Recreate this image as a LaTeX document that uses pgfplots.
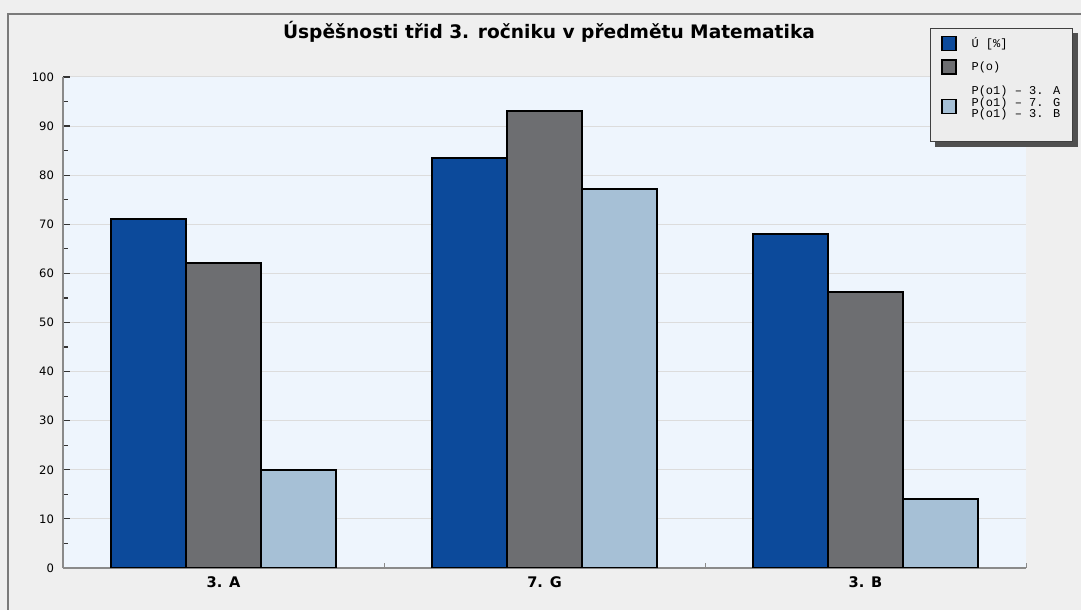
\documentclass[border=0pt]{standalone}
\usepackage{pgfplots}
\pgfplotsset{compat=1.18}
\usepackage{fontspec}
\setmainfont{DejaVu Sans}
\newfontfamily\monofont{Liberation Mono}
\definecolor{cblue}{HTML}{0C4A9B}
\definecolor{cgray}{HTML}{6D6E71}
\definecolor{clight}{HTML}{A6C0D6}
\definecolor{plotbg}{HTML}{EEF5FD}
\definecolor{pagebg}{HTML}{EFEFEF}
\definecolor{gridc}{HTML}{DCDCDC}
\definecolor{axisgray}{HTML}{8A8A8A}
\definecolor{framegray}{HTML}{7A7A7A}
\definecolor{shadowgray}{HTML}{505050}
\definecolor{legbg}{HTML}{EDEDED}
\pgfplotsset{
  sq/.style={legend image code/.code={\draw[overlay,fill=#1,draw=black,line width=0.7pt] (1.5pt,-1.5pt) rectangle (8.5pt,5.5pt); \path (0pt,0pt) (14pt,0pt);}},
  sqhigh/.style={legend image code/.code={\draw[overlay,fill=#1,draw=black,line width=0.7pt] (1.5pt,2pt) rectangle (8.5pt,9pt); \path (0pt,0pt) (14pt,0pt);}},
  noimg/.style={legend image code/.code={\path (0pt,0pt) (14pt,0pt);}},
}
\begin{document}
\begin{tikzpicture}
\fill[pagebg] (0,0) rectangle (540.5pt,305pt);
\useasboundingbox (0,0) rectangle (540.5pt,305pt);
\draw[framegray,line width=1.3pt] (4pt,-5pt) -- (4pt,298pt) -- (560pt,298pt);
\node[font=\bfseries\fontsize{9.3}{11}\selectfont] at (274.5pt,289pt) {Úspěšnosti třid 3. ročniku v předmětu Matematika};
\begin{axis}[
  at={(31.5pt,21pt)}, anchor=south west,
  scale only axis, width=481.5pt, height=245.5pt,
  ybar=0pt, bar width=37.5pt,
  xmin=-0.5, xmax=2.5, ymin=0, ymax=100,
  xtick={0,1,2}, xticklabels={3. A,7. G,3. B},
  minor xtick={0.5,1.5,2.5},
  ytick={0,10,...,100}, minor y tick num=1,
  axis x line=bottom, axis y line=left,
  axis line style={-, draw=axisgray, line width=0.8pt},
  axis background/.style={fill=plotbg},
  tick align=inside,
  major x tick style={draw=none},
  minor x tick style={draw=axisgray, line width=0.5pt},
  major y tick style={draw=black!80, line width=0.6pt},
  minor y tick style={draw=black!80, line width=0.6pt},
  major tick length=3.5pt, minor tick length=2.5pt,
  ymajorgrids, grid style={draw=gridc, line width=0.5pt},
  /pgf/number format/assume math mode=true,
  yticklabel style={font=\fontsize{5.8}{7}\selectfont, xshift=-1pt},
  xticklabel style={font=\bfseries\fontsize{7.3}{8}\selectfont, yshift=-1pt},
  legend style={at={(1.0488,1.0998)}, anchor=north east, name=leg,
    draw=black!75, fill=legbg, line width=0.6pt,
    font=\monofont\fontsize{6}{6.5}\selectfont,
    cells={anchor=base west}, row sep=-4pt, inner xsep=4pt, inner ysep=2.5pt},
]
\addplot[forget plot, bar shift=-37.5pt, fill=cblue, draw=black, line width=1pt] coordinates {(0,71) (1,83.5) (2,68)};
\addplot[forget plot, bar shift=0pt, fill=cgray, draw=black, line width=1pt] coordinates {(0,62.2) (1,93) (2,56.3)};
\addplot[forget plot, bar shift=37.5pt, fill=clight, draw=black, line width=1pt] coordinates {(0,20) (1,77.2) (2,14)};
\addlegendimage{sq=cblue}
\addlegendentry{Ú [\%]}
\addlegendimage{noimg}
\addlegendentry{\phantom{P(o)}}
\addlegendimage{sq=cgray}
\addlegendentry{P(o)}
\addlegendimage{noimg}
\addlegendentry{\phantom{P(o)}}
\addlegendimage{noimg}
\addlegendentry{P(o1) – 3. A}
\addlegendimage{noimg}
\addlegendentry{P(o1) – 7. G}
\addlegendimage{sqhigh=clight}
\addlegendentry{P(o1) – 3. B}
\addlegendimage{noimg}
\addlegendentry{\phantom{P(o)}}
\end{axis}
\fill[shadowgray] ([yshift=-2.5pt]leg.north east) rectangle ([xshift=2.5pt,yshift=-2.5pt]leg.south east);
\fill[shadowgray] ([xshift=2.5pt]leg.south west) rectangle ([xshift=2.5pt,yshift=-2.5pt]leg.south east);
\end{tikzpicture}
\end{document}
